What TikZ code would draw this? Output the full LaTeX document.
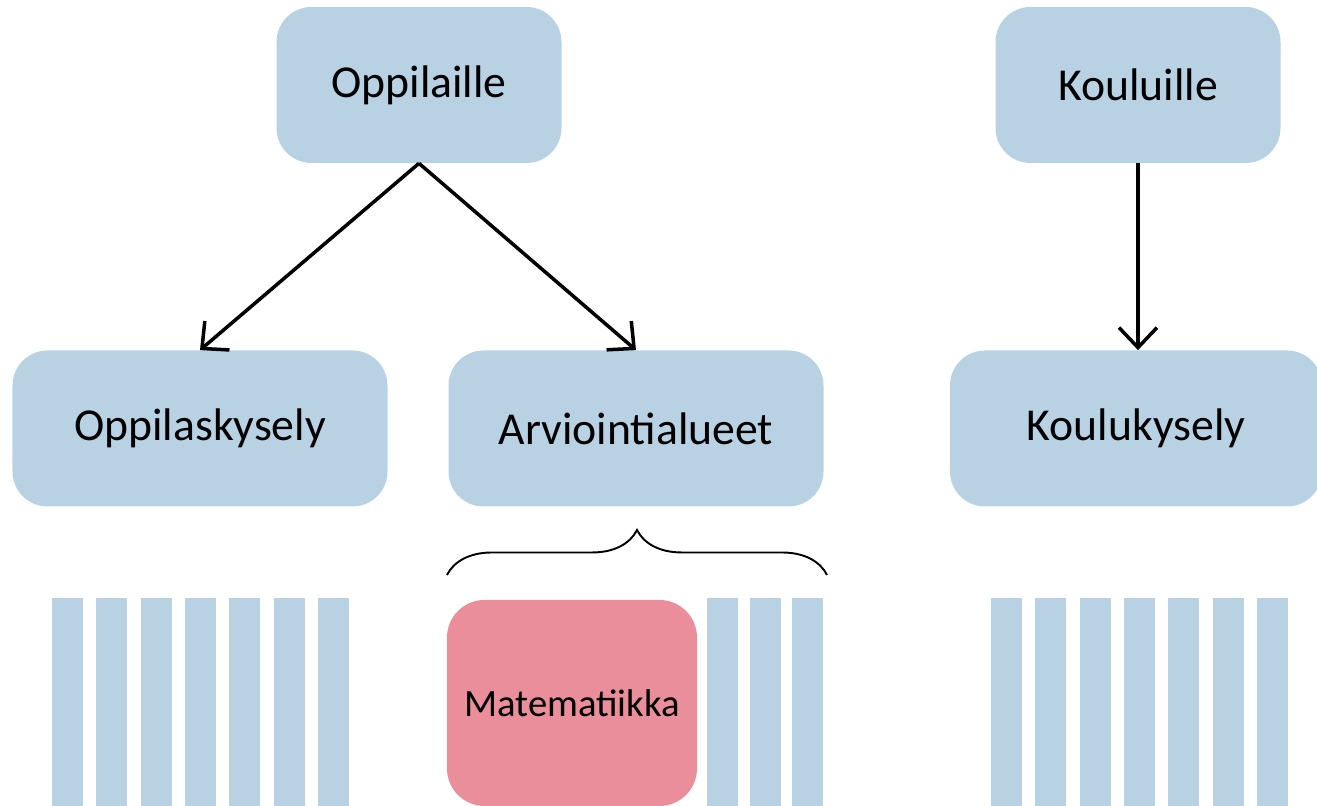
\documentclass[tikz,border=0pt]{standalone}
\usepackage{fontspec}
\setmainfont{Carlito}
\usetikzlibrary{positioning, arrows.meta, decorations.pathreplacing}
\definecolor{boxblue}{RGB}{184,209,227}
\definecolor{boxpink}{RGB}{233,142,154}
\tikzset{
	block/.style={
		rectangle,
		fill=boxblue,
		text centered,
		minimum width=7.5cm,
		minimum height=3.12cm,
		rounded corners=0.7cm,
		font=\fontsize{26}{30}\selectfont,
	},
	topblock/.style={
		block,
		minimum width=5.7cm,
	},
	subject/.style={
		rectangle,
		fill=boxpink,
		text centered,
		minimum width=5cm,
		minimum height=4.12cm,
		rounded corners=0.75cm,
		font=\fontsize{22}{26}\selectfont,
	},
	bar/.style={
		fill=boxblue,
	},
	link/.style={
		->,
		line width=2pt,
	},
}
\begin{document}
\begin{tikzpicture}[>={Straight Barb[length=4mm, width=7.6mm]}]
		\useasboundingbox (0,0) rectangle (26.34,16.12);
		% Place nodes
		\node [topblock] (opp) at (8.38,14.42) {Oppilaille};
		\node [topblock] (kou) at (22.76,14.42) {Kouluille};
		
		\node [block] (oppkys) at (4.0,7.55) {Oppilaskysely};
		\node [block] (arv) at (12.72,7.55) {Arviointialueet};
		\node [block, minimum width=7.44cm] (koukys) at (22.72,7.55) {Koulukysely};
		
		\draw [link] (opp.south) to (oppkys.north);
		\draw [link] (opp.south) to (arv.north);
		\draw [link] (kou.south) to (kou.south |- koukys.north);
		
		% brace over the areas
		\coordinate (bl) at (8.94,4.62);
		\coordinate (br) at (16.54,4.62);
		\draw [line width=1.1pt, decorate, decoration={brace, amplitude=0.9cm}] (bl) to (br);
		
		\node [subject] (mat) at (11.44,2.06) {Matematiikka};
		
		% bars
		\foreach \i in {0,...,6} {
			\fill [bar] (1.04+0.886*\i,-0.1) rectangle ++(0.62,4.26);
			\fill [bar] (19.82+0.886*\i,-0.1) rectangle ++(0.62,4.26);
		}
		\foreach \i in {0,1,2} {
			\fill [bar] (14.14+0.85*\i,-0.1) rectangle ++(0.62,4.26);
		}

	\end{tikzpicture}
\end{document}
